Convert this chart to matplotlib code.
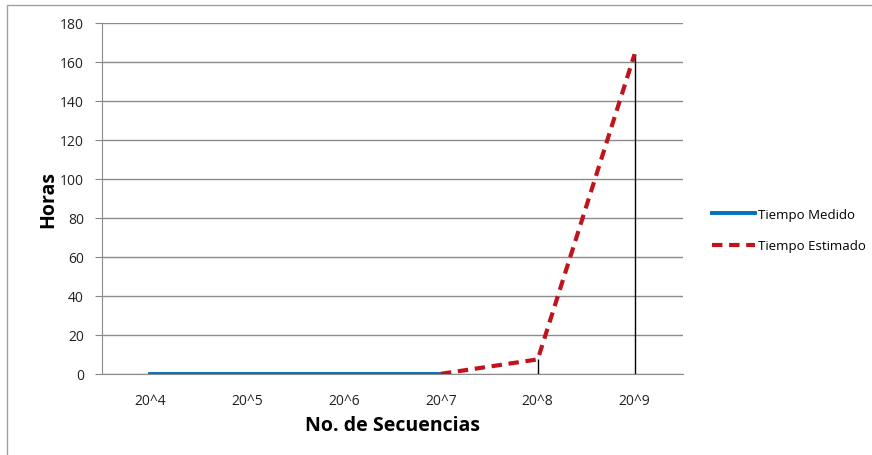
import matplotlib.pyplot as plt
from matplotlib.patches import Rectangle

categorias = ['20^4', '20^5', '20^6', '20^7', '20^8', '20^9']
tiempo_medido = [0.1, 0.1, 0.1, 0.1]
tiempo_estimado = [0.1, 7.5, 164]
yticks = list(range(0, 181, 20))

plt.rcParams['font.family'] = ['Open Sans', 'DejaVu Sans']

fig = plt.figure(figsize=(8.72, 4.56), dpi=100)
fig.patches.append(Rectangle((7 / 872, -0.1), 1.2, (456 - 6) / 456 + 0.1,
                             transform=fig.transFigure, fill=False,
                             edgecolor='#a0a0a0', linewidth=1))
ax = fig.add_axes([102 / 872, 81 / 456, 581 / 872, 351 / 456])

x_med = list(range(len(tiempo_medido)))
x_est = list(range(3, 3 + len(tiempo_estimado)))

# lineas de caida (negras) desde 0 hasta el valor
for xi, yi in zip(x_est, tiempo_estimado):
    ax.vlines(xi, 0, yi, color='black', linewidth=1, zorder=2)

ax.plot(x_med, tiempo_medido, color='#0070c0', linewidth=2.8,
        label='Tiempo Medido', zorder=3)
ax.plot(x_est, tiempo_estimado, color='#c0141c', linewidth=3,
        linestyle=(0, (2.5, 1.6)), label='Tiempo Estimado', zorder=4)

ax.set_xlim(-0.5, 5.5)
ax.set_ylim(0, 180)
ax.set_yticks(yticks)
ax.set_xticks(range(len(categorias)))
ax.set_xticklabels(categorias)
ax.tick_params(axis='x', length=0, pad=14, labelsize=10, labelcolor='#222222')
ax.tick_params(axis='y', length=5, color='#888888', pad=8, labelsize=10,
               labelcolor='#222222')
ax.grid(axis='y', color='#8c8c8c', linewidth=1)
ax.set_axisbelow(True)
for s in ['top', 'right']:
    ax.spines[s].set_visible(False)
ax.spines['left'].set_color('#8c8c8c')
ax.spines['bottom'].set_color('#8c8c8c')

ax.set_ylabel('Horas', fontsize=14, fontweight='bold', labelpad=1)
ax.set_xlabel('No. de Secuencias', fontsize=14, fontweight='bold', labelpad=5)

ax.legend(loc='center left', bbox_to_anchor=(1.03, 0.41), frameon=False,
          fontsize=9.5, handlelength=3.2, handletextpad=0.3, labelspacing=1.4)

fig.savefig('out.png', dpi=100)
